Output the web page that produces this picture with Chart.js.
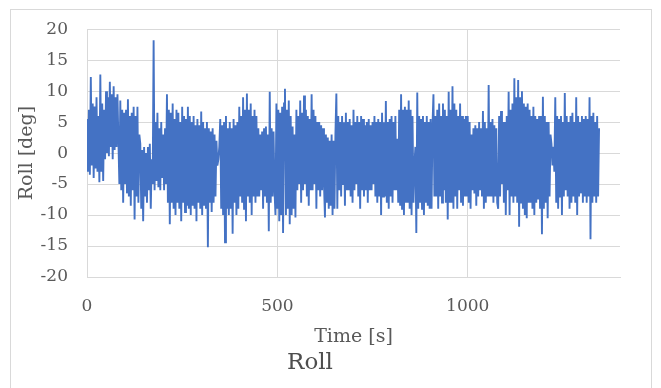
<!DOCTYPE html>
<html>
<head>
<meta charset="utf-8">
<script src="https://cdn.jsdelivr.net/npm/chart.js@4"></script>
<style>
  html, body { margin: 0; padding: 0; background: #fff; }
  #wrap { position: relative; width: 661px; height: 388px; overflow: hidden; }
  #frame { position: absolute; left: 10px; top: 9px; width: 642px; height: 400px; border: 1px solid #d9d9d9; box-sizing: border-box; }
  canvas { position: absolute; left: 0; top: 0; }
</style>
</head>
<body>
<div id="wrap">
  <div id="frame"></div>
  <canvas id="rollChart" width="661" height="388"></canvas>
</div>
<script>
// Roll angle, one value every 2.5 s (swings of the trace)
const dt = 2.5;
const roll = [
  // 0 - 47.5 s
  5.5, -3, 7, -3.5, 12.3, -2, 8, -4, 7.5, -2.5, 9, -3, 6, -4.7, 12.7, -3, 8, -4.5, 7, -1,
  // 50 - 82.5 s
  10, 0, 9, -0.5, 11.5, 1, 9.5, -1, 10.8, 0.5, 9, 1, 9.5, 2,
  // 85 - 137.5 s
  -5, 8.5, -6, 7, -8, 6.5, -5, 7, -6.5, 8.7, -7, 6, -8.5, 6.5, -6, 7.5, -10.7, 6, -7, 7.5, -8, 3,
  // 140 - 172.5 s
  1.5, -9, 0.5, -11, 1, -7, 0, -8, 1, -6, 1.5, -9, -1, -5,
  // 175 - 207.5 s
  18.2, -6, 5, -4.5, 6.5, -5.5, 4, -6, 5, -4, 3, -6, 4, -5,
  // 210 - 272.5 s
  9.5, -8, 7, -11.5, 6.5, -8, 8, -9, 5.5, -10, 7, -8, 6.5, -9, 5, -11, 7.5, -8, 6, -9.5, 5.5, -8.5, 7.5, -9, 6, -10,
  // 275 - 342.5 s
  5, -8.5, 6, -9, 4.5, -11, 5.5, -8, 4.5, -9, 6.7, -10, 5, -8.5, 4, -9, 5, -15.2, 4, -8, 3.5, -9.5, 4, -8, 3, -7, 2, -2,
  // 345 - 397.5 s
  -1, 1, 5.5, -9, 4.5, -10, 5, -14.4, 6, -9, 4, -10, 5, -9, 4, -13, 5.5, -8, 4.5, -10, 5, -9,
  // 400 - 447.5 s
  7.5, -7, 6, -8, 9, -9, 7, -11, 9.6, -7, 7, -8, 8, -10, 6, -7, 7, -8, 6, -7,
  // 450 - 492.5 s
  4, -7, 3, -6, 3.5, -9, 4, -7, 4.3, -8, 3, -12.6, 9.9, -8, 4, -7, 3.5, -6,
  // 495 - 547.5 s
  -10, 8, -9, 7, -11, 6.5, -10, 7.5, -12.9, 8, 10.4, -10, 7, -9, 8.5, -11.5, 6, -10, 4.3, -9, 3, -10.4,
  // 550 - 622.5 s
  7, -6, 6, -5, 8.5, -8, 6.5, -6, 9.3, -5, 7, -7, 6, -8.5, 5.5, -6, 9.5, -6, 7, -5, 6, -9, 5, -6, 5, -7, 4.5, -6, 4, -5,
  // 625 - 652.5 s
  -10.4, 3, -8, 2.5, -9, 2, -8.5, 3, -10, 2, -9, 3,
  // 655 - 752.5 s
  9.6, -9, 6, -6, 5, -7, 6, -5, 5, -8.5, 6.5, -6, 5, -6, 5.5, -7, 4.5, -8, 7, -6,
  5, -5, 6, -7, 5, -9, 6, -6, 5.5, -7, 4.5, -6, 5, -8, 5.5, -6, 4.5, -6, 5, -5,
  // 755 - 812.5 s
  6, -7, 5, -8, 5.5, -7, 5, -10, 6.5, -7, 5, -7, 8.4, -8, 5, -9, 5.5, -7, 6, -8, 5, -6, 6, -6,
  // 815 - 857.5 s
  2.3, -8, 7, -8.5, 9.5, -9, 7, -10, 7.5, -8, 7, -8, 8.5, -9, 7, -10, 6, -8,
  // 860 - 907.5 s
  -2, 1, -12.9, 9.8, -9, 6, -8, 5.5, -9, 6, -10, 5, -8, 6, -8.5, 5, -9, 5.5, -9, 4.5,
  // 910 - 1007.5 s
  9.5, -7, 6, -7, 7, -9, 8, -7, 6, -8, 8, -6, 7, -8, 6, -10.7, 9.9, -8, 7, -8,
  10.8, -9, 8, -7, 7, -9, 6, -6, 8, -8, 6, -8.5, 5.5, -7, 6, -7, 6, -8, 5, -9,
  // 1010 - 1077.5 s
  3, -6, 4, -6.5, 4.5, -8.5, 4, -7, 5, -6, 4, -7, 6.8, -9, 5, -8, 4, -7, 11, -7, 5, -7, 5.5, -8, 4.5, -7, 4, -8,
  // 1080 - 1112.5 s
  -9, 6, -7, 6.8, -5, 5, -8, 5, -10, 6, -6, 9.9, -10, 7,
  // 1115 - 1162.5 s
  -7, 8, -8, 12.1, -7, 9, -8, 11.8, -11.9, 9, -8, 10, -9, 8, -10, 7.5, -10.5, 8, -8, 7,
  // 1165 - 1217.5 s
  -8, 6, -9, 7.5, -10, 6, -8, 5.5, -7.5, 6, -9, 6, -13.1, 9.1, -9, 6, -8, 5, -10.5, 5, -7, 3,
  // 1220 - 1232.5 s
  1.5, -2, 1, -3, 9, -8,
  // 1235 - 1345 s
  6, -9, 5.5, -7, 6, -10, 5, -7, 9.7, -6, 6, -7, 5, -9, 6, -8, 6.5, -7, 5, -8,
  9, -10, 6, -7, 5, -6.5, 6, -8, 5.5, -7, 6, -8, 5.5, -7, 9, -13.9, 6, -8, 6.5, -7, 5, -8, 6, -7, 4
];
const times = roll.map((_, i) => i * dt);

const xTicks = [0, 500, 1000];
const yMin = -20, yMax = 20, yStep = 5;

const gray = "#595959";
const gridColor = "#d9d9d9";
const serif = "'DejaVu Serif', serif";

const ctx = document.getElementById("rollChart").getContext("2d");
const chart = new Chart(ctx, {
  type: "line",
  data: {
    datasets: [{
      label: "Roll",
      data: times.map((t, i) => ({ x: t, y: roll[i] })),
      borderColor: "#4472C4",
      borderWidth: 1.9,
      pointRadius: 0,
      fill: false,
      tension: 0
    }]
  },
  options: {
    responsive: false,
    animation: false,
    layout: { padding: { left: 0, right: 41, top: 23, bottom: 0 } },
    plugins: {
      legend: { display: false },
      tooltip: { enabled: false },
      title: {
        display: true,
        text: "Roll",
        position: "bottom",
        color: "#4d4d4d",
        font: { family: serif, size: 23, weight: "normal", lineHeight: 1.2 },
        padding: { top: 0, bottom: 11 }
      }
    },
    scales: {
      x: {
        type: "linear",
        min: 0,
        max: 1400,
        afterBuildTicks: (scale) => { scale.ticks = xTicks.map(v => ({ value: v })); },
        afterFit: (scale) => { scale.height = 72.4; },
        ticks: {
          color: gray,
          font: { family: serif, size: 17 },
          padding: 19,
          maxRotation: 0,
          callback: (v) => String(v)
        },
        grid: { color: gridColor, drawTicks: false },
        border: { color: gridColor },
        title: {
          display: true,
          text: "Time [s]",
          color: gray,
          font: { family: serif, size: 19, lineHeight: 1.2 },
          padding: { top: 0, bottom: 1 }
        }
      },
      y: {
        min: yMin,
        max: yMax,
        afterFit: (scale) => { scale.width = 87; },
        ticks: {
          stepSize: yStep,
          color: gray,
          font: { family: serif, size: 17 },
          padding: 19,
          callback: (v) => String(v)
        },
        grid: { color: gridColor, drawTicks: false },
        border: { color: gridColor },
        title: {
          display: true,
          text: "Roll [deg]",
          color: gray,
          font: { family: serif, size: 19, lineHeight: 1.2 },
          padding: { top: 15.6, bottom: 0 }
        }
      }
    }
  }
});
</script>
</body>
</html>
